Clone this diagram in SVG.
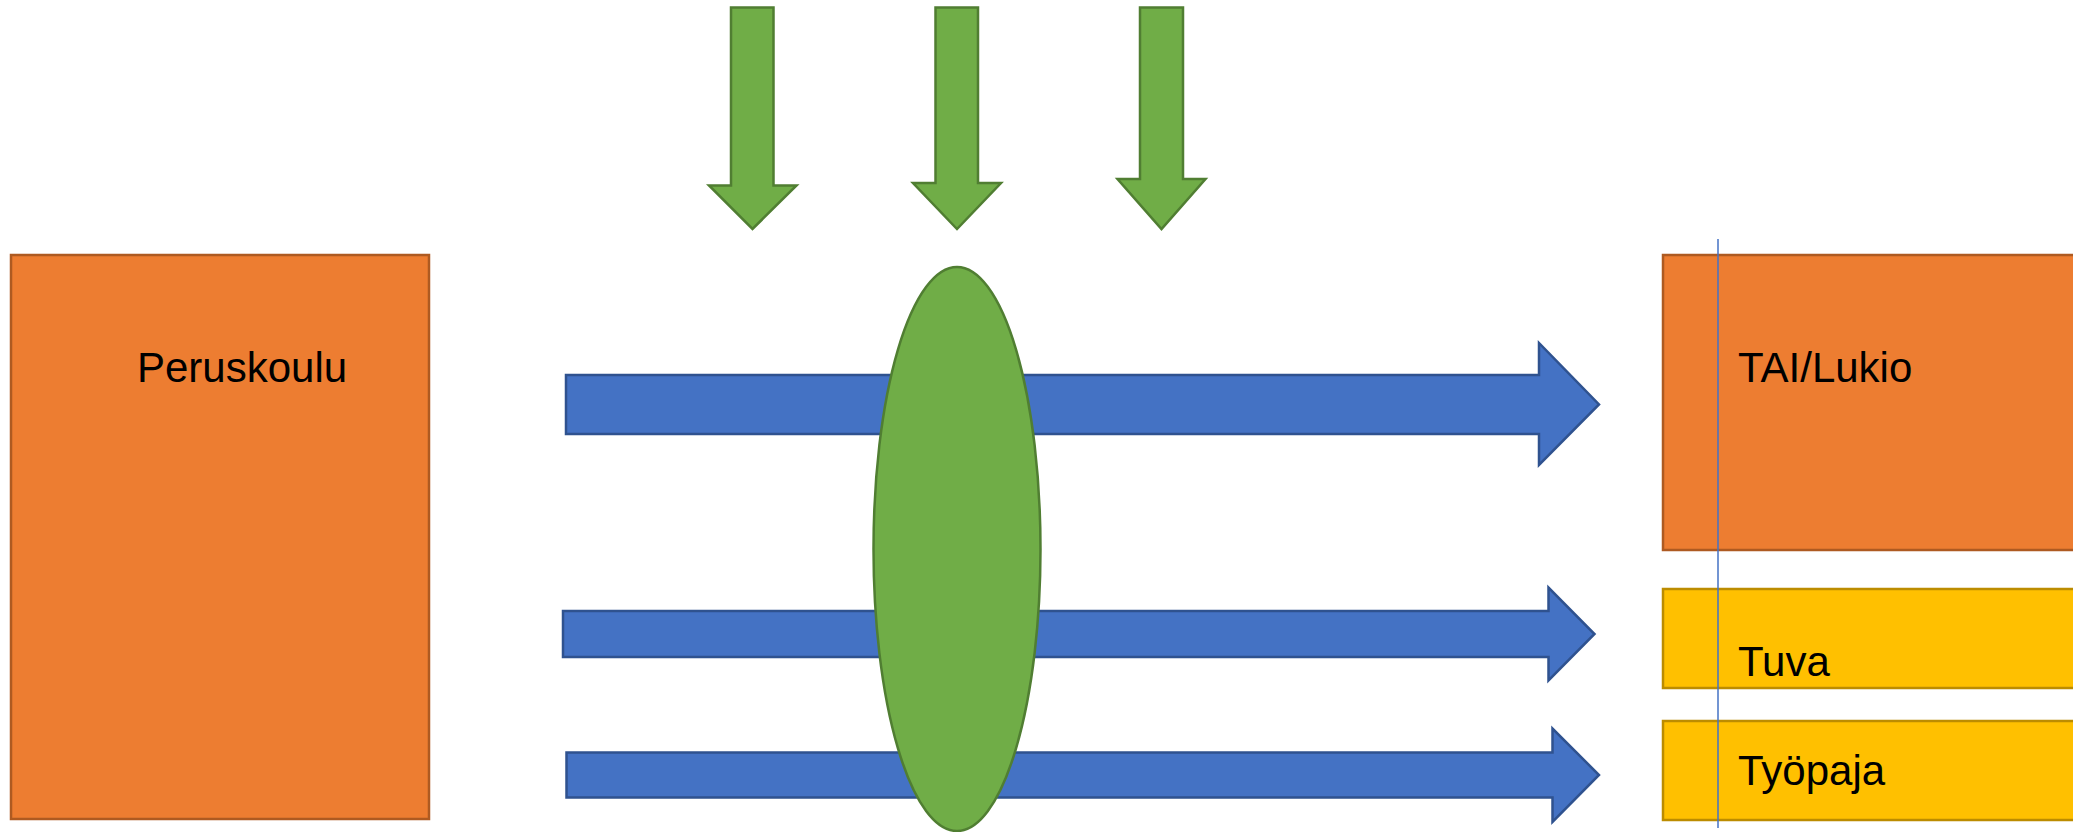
<svg xmlns="http://www.w3.org/2000/svg" width="2073" height="832" viewBox="0 0 2073 832">
<style>
.orange{fill:#ED7D31;stroke:#AE5A21;stroke-width:2.5}
.yellow{fill:#FFC000;stroke:#BC8C00;stroke-width:2.5}
.green{fill:#70AD47;stroke:#507E32;stroke-width:2.5}
.blue{fill:#4472C4;stroke:#2F528F;stroke-width:2.5}
.lbl{font-family:"Liberation Sans",Arial,sans-serif;font-size:42px;fill:#000}
</style>
<rect width="2073" height="832" fill="#fff"/>
<g id="peruskoulu">
<rect class="orange" x="11" y="255" width="418" height="564"/>
<text class="lbl" x="137" y="382">Peruskoulu</text>
</g>
<g id="tai-lukio">
<rect class="orange" x="1663" y="255" width="420" height="295"/>
<text class="lbl" x="1738" y="382">TAI/Lukio</text>
</g>
<g id="tuva">
<rect class="yellow" x="1663" y="589" width="420" height="99"/>
<text class="lbl" x="1738" y="676">Tuva</text>
</g>
<g id="tyopaja">
<rect class="yellow" x="1663" y="721" width="420" height="99"/>
<text class="lbl" x="1738" y="785">Työpaja</text>
</g>
<g id="connectors">
<path class="green" d="M731,7.5 H773.5 V185.5 H796.5 L752.5,229 L709,185.5 H731 Z"/>
<path class="green" d="M935.5,7.5 H978 V183 H1001 L957,229 L913,183 H935.5 Z"/>
<path class="green" d="M1140,7.5 H1183 V179 H1205.5 L1161.5,229 L1117.5,179 H1140 Z"/>
<path class="blue" d="M566,375 H1539 V343 L1599,404.5 L1539,465 V434 H566 Z"/>
<path class="blue" d="M563,611 H1548.5 V587.5 L1594.5,634 L1548.5,680.5 V657 H563 Z"/>
<path class="blue" d="M566.5,752.5 H1552.5 V728.5 L1599,775 L1552.5,822 V797.5 H566.5 Z"/>
</g>
<g id="filter">
<ellipse class="green" cx="957" cy="549" rx="83.5" ry="282"/>
</g>
<g id="divider">
<line x1="1718" y1="239" x2="1718" y2="828" stroke="#4472C4" stroke-width="1.5"/>
</g>
</svg>
